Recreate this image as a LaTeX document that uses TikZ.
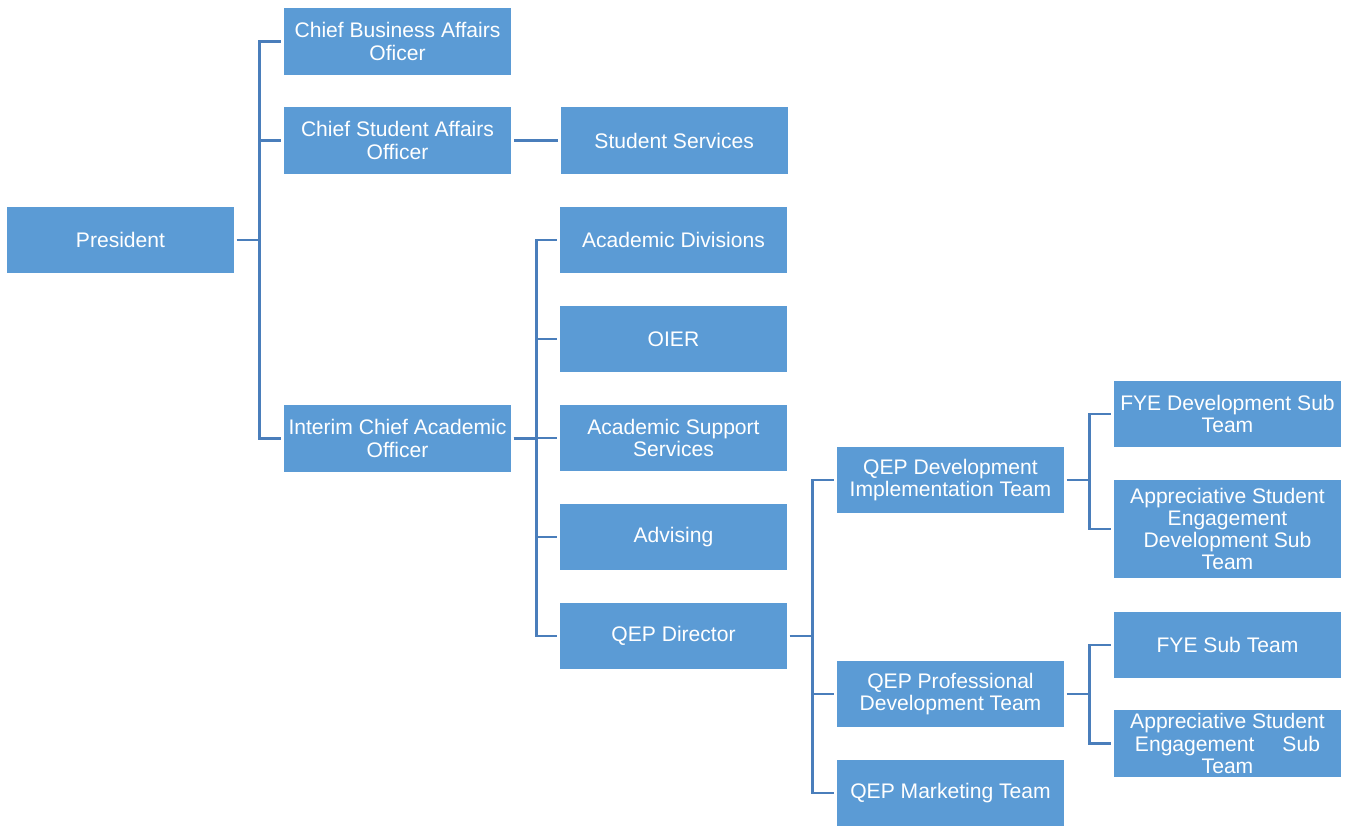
\documentclass[tikz,border=0pt]{standalone}
\usepackage{fontspec}
\setmainfont{Liberation Sans}
\usepackage{tikz}
\usetikzlibrary{positioning}

\definecolor{boxblue}{HTML}{5B9BD5}
\definecolor{lineblue}{HTML}{4A7EBB}

\begin{document}
\begin{tikzpicture}[
    x=0.02cm, y=-0.02cm,
    unit/.style={rectangle, fill=boxblue, text=white, minimum width=4.54cm,
                 minimum height=1.34cm, inner sep=1pt, align=center,
                 font=\fontsize{12}{12.6}\selectfont},
    link/.style={draw=lineblue, line width=1.5pt, shorten <=1.5pt, shorten >=1.5pt}
]
\useasboundingbox (0,0) rectangle (1346,827);

% first level
\node[unit] (pres) at (120.5,240) {President};
\node[unit] (cbao) at (397.5,41.5) {Chief Business Affairs\\Oficer};
\node[unit] (csao) at (397.5,140.5) {Chief Student Affairs\\Officer};
\node[unit] (icao) at (397.5,438.5) {Interim Chief Academic\\Officer};

% second level
\node[unit, right=0.98cm of csao] (stsv) {Student Services};
\node[unit] (acdv) at (673.5,240) {Academic Divisions};
\node[unit] (oier) at (673.5,339) {OIER};
\node[unit] (acss) at (673.5,438) {Academic Support\\Services};
\node[unit] (advs) at (673.5,537) {Advising};
\node[unit] (qdir) at (673.5,636) {QEP Director};

% QEP teams
\node[unit] (qdit) at (950.5,480) {QEP Development\\Implementation Team};
\node[unit] (qpdt) at (950.5,694) {QEP Professional\\Development Team};
\node[unit] (qmkt) at (950.5,793) {QEP Marketing Team};

% sub teams
\node[unit] (fyed) at (1227.5,414) {FYE Development Sub\\Team};
\node[unit, minimum height=1.96cm] (ased) at (1227.5,529) {Appreciative Student\\Engagement\\Development Sub\\Team};
\node[unit] (fyes) at (1227.5,645) {FYE Sub Team};
\node[unit] (ases) at (1227.5,743.5) {Appreciative Student\\Engagement\hspace{0.56cm}Sub\\Team};

% connectors
\foreach \kid in {cbao,csao,icao}
  \draw[link] (pres.east) -- ++(25,0) |- (\kid.west);
\draw[link] (csao) -- (stsv);
\foreach \kid in {acdv,oier,acss,advs,qdir}
  \draw[link] (icao.east) -- ++(25,0) |- (\kid.west);
\foreach \kid in {qdit,qpdt,qmkt}
  \draw[link] (qdir.east) -- ++(25,0) |- (\kid.west);
\foreach \kid in {fyed,ased}
  \draw[link] (qdit.east) -- ++(25,0) |- (\kid.west);
\foreach \kid in {fyes,ases}
  \draw[link] (qpdt.east) -- ++(25,0) |- (\kid.west);

\end{tikzpicture}
\end{document}
